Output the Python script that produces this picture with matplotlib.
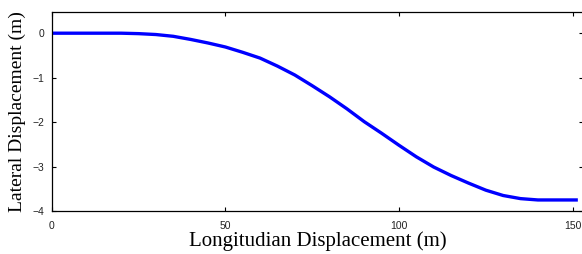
import matplotlib
matplotlib.use("Agg")
import matplotlib.pyplot as plt

# longitudinal / lateral displacement
x_long = [0, 10, 20, 25, 30, 35, 40, 45, 50, 55, 60, 65, 70, 75, 80, 85, 90,
          95, 100, 105, 110, 115, 120, 125, 130, 135, 140, 145, 151.5]
y_lat = [0.0, 0.0, 0.0, -0.01, -0.03, -0.07, -0.14, -0.22, -0.31, -0.43, -0.56,
         -0.74, -0.94, -1.18, -1.43, -1.70, -1.99, -2.25, -2.52, -2.78, -3.01,
         -3.20, -3.37, -3.53, -3.65, -3.72, -3.75, -3.75, -3.75]

x_ticks = [0, 50, 100, 150]
y_ticks = [0, -1, -2, -3, -4]

fig = plt.figure(figsize=(5.82, 2.54), dpi=100)
ax = fig.add_axes([0.0888, 0.169, 0.913, 0.7826])

ax.plot(x_long, y_lat, color=(0, 0, 1), linewidth=2.4,
        solid_capstyle="butt", solid_joinstyle="round")

ax.set_xlim(0, 153)
ax.set_ylim(-4, 0.47)
ax.set_xticks(x_ticks)
ax.set_yticks(y_ticks)
ax.tick_params(direction="in", length=3, width=0.8, top=True, right=True,
               labelsize=7.5)
ax.tick_params(axis="x", pad=7)
ax.tick_params(axis="y", pad=5)
for lab in ax.get_xticklabels() + ax.get_yticklabels():
    lab.set_family("Liberation Sans")
    lab.set_color("#222222")
for s in ax.spines.values():
    s.set_linewidth(0.9)

ax.set_xlabel("Longitudian Displacement (m)", family="Liberation Serif",
              fontsize=15, labelpad=0)
ax.set_ylabel("Lateral Displacement (m)", family="Liberation Serif",
              fontsize=14, labelpad=5)

fig.savefig("out.png", dpi=100)
